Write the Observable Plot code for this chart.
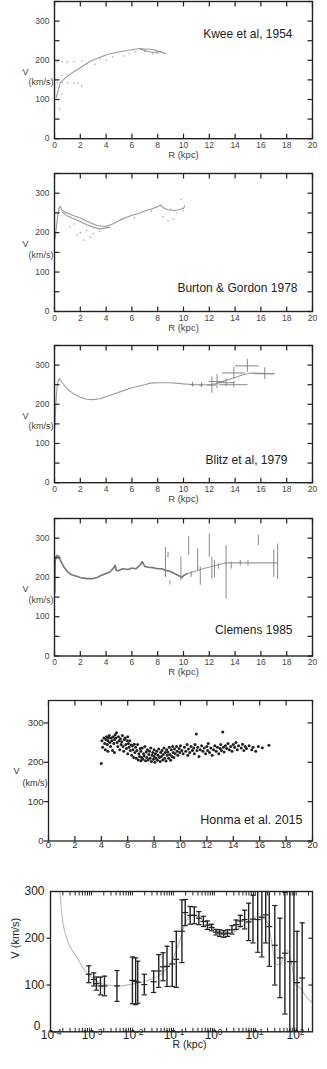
<!DOCTYPE html>
<html><head><meta charset="utf-8">
<script src="https://cdn.jsdelivr.net/npm/d3@7"></script>
<script src="https://cdn.jsdelivr.net/npm/@observablehq/plot@0.6"></script>
<style>
html,body{margin:0;padding:0;background:#fff}
#root{position:relative;width:327px;height:1069px;overflow:hidden;background:#fff}
#root svg{position:absolute;left:0;overflow:visible}
</style></head><body>
<div id="root"></div>
<script>
// ---------------- DATA ----------------
// Panel 1: Kwee et al, 1954
const kweeCurveR = [0.13,0.45,1.0,1.5,2.0,2.8,3.5,4.06,4.8,5.6,6.6,7.0,7.4,7.7,7.94,8.3,8.6];
const kweeCurveV = [105,143,160,171,181,198,207,215,220,225,230,229,228,227,224,221,217];
const kweeCurve2R = [6.6,6.9,7.2,7.5,7.8,8.0,8.3];
const kweeCurve2V = [229,226,223,221,219,222,221];
const kweeDotsR = [0.2,0.6,1.0,1.5,2.1, 0.2,0.6,1.0,1.5,1.8,2.1, 0.39,0.57,0.57, 3.15,3.55,4.0,4.5,5.35,5.8,6.3,7.0,7.6,8.0];
const kweeDotsV = [196,197,196,197,198, 143,143,143,142,142,134, 77,113,161, 190,204,200,209,211,218,222,222,216,218];

// Panel 2: Burton & Gordon 1978
const bgLineAR = [0.05,0.2,0.35,0.45,0.55,0.8,1.0,1.5,2.0,2.5,3.0,3.3,3.6,4.0,4.5,5.0,5.5,6.0,6.5,6.9,7.5,8.0,8.2,8.5,8.8,9.2,9.6,10.0,10.1];
const bgLineAV = [185,230,262,267,258,252,250,243,237,229,222,218,217,216,222,230,238,244,248,254,260,266,270,262,258,256,258,262,268];
const bgLineBR = [0.6,1.0,1.5,2.0,2.5,3.0,3.5,4.0,4.3];
const bgLineBV = [252,242,235,228,220,214,209,212,214];
const bgDotsR = [1.2,1.5,1.74,2.0,2.25,2.5,2.77,3.0,3.5,5.2,6.2,7.5,8.4,8.8,9.0,9.2,9.5,9.8,10.0];
const bgDotsV = [215,222,194,200,181,205,188,198,203,235,238,255,240,230,260,235,250,284,255];

// Panel 3: Blitz et al, 1979
const blitzCurveR = [0.02,0.1,0.2,0.3,0.39,0.6,1.0,1.5,2.0,2.5,3.0,3.5,4.0,5.0,6.0,7.0,7.4,8.0,9.0,10.0,11.0,12.0,12.5,13.0,13.9,14.5,15.2,16.0,16.6,17.0];
const blitzCurveV = [140,200,245,262,265,255,239,226,218,213,212,214,219,231,242,250,254,255,255,252,250,250,252,258,267,274,280,279,278,278];
const blitzR  = [10.7,11.4,12.2,12.6,13.3,13.9,13.9,14.95,16.3];
const blitzV  = [250,249,249,258,255,280,250,298,278];
const blitzER = [0.15,0.15,0.35,0.6,0.7,0.9,1.1,0.9,0.8];
const blitzEV = [6,6,21,18,10,15,8,17,15];

// Panel 4: Clemens 1985
const clemCurveR = [0.02,0.05,0.1,0.2,0.3,0.4,0.5,0.7,1.0,1.3,1.6,2.0,2.5,3.0,3.3,3.6,4.0,4.3,4.6,4.7,4.8,5.0,5.3,5.7,6.0,6.3,6.6,6.8,7.0,7.3,7.6,8.0,8.3,8.6,9.0,9.3,9.6,9.9,10.0,10.3];
const clemCurveV = [160,240,252,256,254,250,240,228,215,207,204,200,197,197,200,205,210,214,225,231,217,218,222,220,224,222,230,240,228,226,225,222,222,218,215,210,205,200,205,210];
const clemOuterR = [10.3,11.5,13.0,13.3,17.3];
const clemOuterV = [210,222,235,237,237];
const clemBarR = [8.6,8.8,8.95,9.8,10.4,10.6,11.1,11.3,12.0,12.2,12.4,12.7,13.3,13.7,14.4,15.0,15.8,17.0,17.3];
const clemBarV = [238,257,186,222,280,207,245,203,281,223,221,228,213,230,236,236,294,235,240];
const clemBarE = [38,7,5,30,24,7,28,23,30,28,22,7,68,9,7,7,13,35,45];

// Panel 5: Honma et al. 2015 (R, V)
const honmaR = [4.0,4.05,4.1,4.2,4.25,4.3,4.35,4.4,4.45,4.5,4.5,4.55,4.6,4.65,4.7,4.75,4.8,4.85,4.9,4.95,5.0,5.0,5.05,5.1,5.15,5.2,5.25,5.3,5.35,5.4,5.45,5.5,5.55,5.6,5.65,5.7,5.75,5.8,5.85,5.9,5.95,6.0,6.0,6.05,6.1,6.15,6.2,6.25,6.3,6.35,6.4,6.45,6.5,6.55,6.6,6.65,6.7,6.75,6.8,6.85,6.9,6.95,7.0,7.0,7.05,7.1,7.15,7.2,7.25,7.3,7.35,7.4,7.45,7.5,7.55,7.6,7.65,7.7,7.75,7.8,7.85,7.9,7.95,8.0,8.0,8.05,8.1,8.15,8.2,8.25,8.3,8.35,8.4,8.45,8.5,8.55,8.6,8.65,8.7,8.75,8.8,8.85,8.9,8.95,9.0,9.05,9.1,9.15,9.2,9.25,9.3,9.35,9.4,9.45,9.5,9.55,9.6,9.7,9.75,9.8,9.9,9.95,10.0,10.1,10.2,10.3,10.4,10.5,10.55,10.6,10.7,10.8,10.9,11.0,11.05,11.1,11.2,11.25,11.3,11.4,11.5,11.6,11.7,11.8,11.9,12.0,12.05,12.1,12.2,12.3,12.4,12.5,12.6,12.7,12.8,12.9,13.0,13.05,13.1,13.2,13.25,13.3,13.4,13.5,13.6,13.7,13.8,13.9,14.0,14.1,14.2,14.3,14.4,14.6,14.7,14.8,14.9,15.0,15.2,15.4,15.5,15.7,15.9,16.2,16.7];
const honmaV = [197,255,238,262,248,232,258,265,245,255,228,262,268,250,240,262,255,230,265,248,258,225,270,262,275,250,240,265,255,232,260,245,252,268,240,228,258,262,245,235,255,265,222,248,238,255,230,244,218,242,232,212,246,225,238,210,230,245,206,222,215,235,204,228,212,236,208,222,216,240,204,226,212,232,206,220,228,210,236,202,218,225,208,232,215,200,222,210,228,205,218,234,212,202,225,215,230,206,220,236,210,225,203,232,218,226,210,238,220,205,232,215,240,225,212,234,222,240,228,218,235,225,242,230,222,238,228,245,218,234,225,240,230,236,222,245,272,230,238,215,232,242,228,236,222,240,230,248,225,236,218,232,242,228,238,222,235,245,230,277,238,226,242,235,248,232,240,228,245,238,250,232,242,236,246,230,240,235,242,232,238,228,240,237,243];

// Panel 6: grand rotation curve (log R)
const grcR = [8.6e-4,1.14e-3,1.32e-3,1.66e-3,2.08e-3,4.2e-3,0.0100,0.0120,0.0135,0.0195,0.033,0.044,0.056,0.070,0.094,0.118,0.162,0.195,0.257,0.325,0.42,0.54,0.68,0.86,1.1,1.36,1.7,2.1,2.7,3.4,4.3,5.5,6.9,8.8,11.5,14.5,18,22,30,40,53,70,88,105,140];
const grcV = [123,112,103,98,98,98,110,108,106,101,107,130,139,140,145,155,215,255,249,249,243,236,228,223,213,211,209,211,218,229,237,240,235,241,240,245,250,225,185,158,168,150,150,105,115];
const grcE = [18,14,14,19,21,33,50,50,45,22,23,35,30,43,48,60,67,28,19,18,14,11,9,7,6,7,7,7,9,10,12,20,40,51,70,85,60,85,85,85,130,160,160,110,118];
const modelR = [1.7e-4,1.9e-4,2.5e-4,3.5e-4,4.5e-4,7e-4,1e-3,1.5e-3,2.5e-3,5e-3,0.01,0.02,0.04,0.07,0.1,0.15,0.2,0.3,0.5,1,2,3,5,8,11,16,21,25,32,41,60,75,95,126,182,250];
const modelV = [300,250,200,172,158,130,118,106,100,98,102,108,118,135,158,200,235,250,240,220,210,213,228,238,247,243,229,193,144,144,175,151,101,94,73,62];

// tick values / labels
const linXTicks = [0,2,4,6,8,10,12,14,16,18,20];
const linYTicks = [0,50,100,150,200,250,300,350];
const linYLabels = [0,100,200,300];
const logDecades = [1e-4,1e-3,1e-2,1e-1,1,10,100];
const logExps = ["-4","-3","-2","-1","0","1","2"];
const grcYLabels = [100,200,300];
const grcYZero = [0];

// ---------------- HELPERS ----------------
const FONT = "Liberation Sans, Arial, Helvetica, sans-serif";
const seg = (x1,y1,x2,y2) => ({draw(ctx, size){ const r = Math.sqrt(size/Math.PI); ctx.moveTo(x1*r,y1*r); ctx.lineTo(x2*r,y2*r); }});
const tickRight = seg(0,0,1,0), tickLeft = seg(0,0,-1,0), tickUp = seg(0,0,0,-1), tickDown = seg(0,0,0,1), hbar = seg(-1,0,1,0);
const idx = a => a.map((_, i) => i);
const root = document.getElementById("root");

function place(svg, top){ svg.style.top = top + "px"; root.appendChild(svg); }

function edgeTicks({xt, yt, len=5, left=true, right=true, top=true, bottom=true, leftOut=false, sw=1.2}){
  const o = {stroke:"#222", fill:"none", strokeWidth: sw, r: len};
  const m = [];
  if (left) m.push(Plot.dot(yt, {...o, y: d=>d, frameAnchor:"left", symbol: leftOut ? tickLeft : tickRight}));
  if (right) m.push(Plot.dot(yt, {...o, y: d=>d, frameAnchor:"right", symbol: tickLeft}));
  if (top) m.push(Plot.dot(xt, {...o, x: d=>d, frameAnchor:"top", symbol: tickDown}));
  if (bottom) m.push(Plot.dot(xt, {...o, x: d=>d, frameAnchor:"bottom", symbol: tickUp}));
  return m;
}

function stdPanel(frameTop, frameH, dataMarks, title, tdx, tdy, topAnchor){
  const mt = 12, mb = 30;
  const svg = Plot.plot({
    width: 327, height: mt + frameH + mb,
    marginTop: mt, marginBottom: mb, marginLeft: 54, marginRight: 15,
    x: {domain: [0,20], axis: null},
    y: {domain: [0,350], axis: null},
    style: {fontFamily: FONT, background: "transparent"},
    marks: [
      ...dataMarks,
      Plot.frame({stroke: "#222", strokeWidth: 1.4}),
      ...edgeTicks({xt: linXTicks, yt: linYTicks}),
      Plot.text(linYLabels, {y: d=>d, text: d=>String(d), frameAnchor:"left", dx:-5, textAnchor:"end", fontSize: 8.5, fill:"#444"}),
      Plot.text(linXTicks, {x: d=>d, text: d=>String(d), frameAnchor:"bottom", dy: 9, fontSize: 8.5, fill:"#444"}),
      Plot.text(["R (kpc)"], {text: d=>d, frameAnchor:"bottom", dy: 19, fontSize: 9.5, fill:"#444"}),
      Plot.text(["V"], {text: d=>d, frameAnchor:"left", dx:-32, dy:2, fontSize: 9, fill:"#444"}),
      Plot.text(["(km/s)"], {text: d=>d, frameAnchor:"left", dx:-26, dy:12.5, fontSize: 9, fill:"#444"}),
      Plot.text([title], {text: d=>d, frameAnchor: topAnchor ? "top-right" : "bottom-right", dx: tdx, dy: tdy, textAnchor:"end", fontSize: 12, fill:"#222"})
    ]
  });
  place(svg, frameTop - mt);
}

const lineStyle = {stroke:"#999", strokeWidth: 1.1, curve: "linear"};

// Panel 1
stdPanel(0.5, 137.2, [
  Plot.dot(idx(kweeDotsR), {x: kweeDotsR, y: kweeDotsV, r: 0.8, fill: "#aaa", stroke: "none"}),
  Plot.line(idx(kweeCurveR), {x: kweeCurveR, y: kweeCurveV, ...lineStyle}),
  Plot.line(idx(kweeCurve2R), {x: kweeCurve2R, y: kweeCurve2V, ...lineStyle})
], "Kwee et al, 1954", -20, 27.5, true);

// Panel 2
stdPanel(172.5, 138, [
  Plot.dot(idx(bgDotsR), {x: bgDotsR, y: bgDotsV, r: 0.8, fill: "#aaa", stroke: "none"}),
  Plot.line(idx(bgLineAR), {x: bgLineAR, y: bgLineAV, ...lineStyle}),
  Plot.line(idx(bgLineBR), {x: bgLineBR, y: bgLineBV, ...lineStyle})
], "Burton & Gordon 1978", -15, -20, false);

// Panel 3
stdPanel(344.5, 137.2, [
  Plot.line(idx(blitzCurveR), {x: blitzCurveR, y: blitzCurveV, ...lineStyle}),
  Plot.ruleX(idx(blitzR), {x: blitzR, y1: i => blitzV[i]-blitzEV[i], y2: i => blitzV[i]+blitzEV[i], stroke:"#888", strokeWidth: 1}),
  Plot.ruleY(idx(blitzR), {y: blitzV, x1: i => blitzR[i]-blitzER[i], x2: i => blitzR[i]+blitzER[i], stroke:"#888", strokeWidth: 1})
], "Blitz et al, 1979", -25, -19, false);

// Panel 4
stdPanel(517.5, 137.5, [
  Plot.line(idx(clemCurveR), {x: clemCurveR, y: clemCurveV, stroke:"#777", strokeWidth: 1.6}),
  Plot.line(idx(clemOuterR), {x: clemOuterR, y: clemOuterV, ...lineStyle}),
  Plot.ruleX(idx(clemBarR), {x: clemBarR, y1: i => clemBarV[i]-clemBarE[i], y2: i => clemBarV[i]+clemBarE[i], stroke:"#888", strokeWidth: 1})
], "Clemens 1985", -20, -22, false);

// Panel 5: Honma et al. 2015
{
  const mt = 12, mb = 26, fh = 140.5;
  const svg = Plot.plot({
    width: 327, height: mt + fh + mb,
    marginTop: mt, marginBottom: mb, marginLeft: 48, marginRight: 15,
    x: {domain: [0,20], axis: null},
    y: {domain: [0,357], axis: null},
    style: {fontFamily: FONT, background: "transparent"},
    marks: [
      Plot.dot(idx(honmaR), {x: honmaR, y: honmaV, r: 1.5, fill: "#222", stroke: "none"}),
      Plot.frame({stroke: "#222", strokeWidth: 1.3}),
      ...edgeTicks({xt: linXTicks, yt: linYLabels, len: 5, leftOut: true}),
      Plot.text(linYLabels, {y: d=>d, text: d=>String(d), frameAnchor:"left", dx:-5, textAnchor:"end", fontSize: 9.5, fill:"#333"}),
      Plot.text(linXTicks, {x: d=>d, text: d=>String(d), frameAnchor:"bottom", dy: 7, fontSize: 9.5, fill:"#333"}),
      Plot.text(["V"], {text: d=>d, frameAnchor:"left", dx:-35, dy:0, fontSize: 9, fill:"#333"}),
      Plot.text(["(km/s)"], {text: d=>d, frameAnchor:"left", dx:-26, dy:12.5, fontSize: 9, fill:"#333"}),
      Plot.text(["Honma et al. 2015"], {text: d=>d, frameAnchor:"bottom-right", dx:-10, dy:-17.5, textAnchor:"end", fontSize: 12.5, fill:"#222"})
    ]
  });
  place(svg, 700 - mt);
}

// Panel 6: grand rotation curve
{
  const mt = 12, mb = 28, fh = 140.3;
  const minor = [];
  logDecades.forEach(d => { for (let k = 1; k <= 9; k++) { const v = d*k; if (v <= 250) minor.push(v); } });
  const clampV = v => Math.max(0, Math.min(300, v));
  const svg = Plot.plot({
    width: 327, height: mt + fh + mb,
    marginTop: mt, marginBottom: mb, marginLeft: 50, marginRight: 15,
    x: {type: "log", domain: [1e-4, 250], axis: null},
    y: {domain: [0,300], axis: null},
    style: {fontFamily: FONT, background: "transparent"},
    marks: [
      Plot.line(idx(modelR), {x: modelR, y: modelV, stroke:"#bbb", strokeWidth: 1.1, curve: "monotone-x", clip: true}),
      Plot.ruleX(idx(grcR), {x: grcR, y1: i => clampV(grcV[i]-grcE[i]), y2: i => clampV(grcV[i]+grcE[i]), stroke:"#222", strokeWidth: 1.4}),
      Plot.dot(idx(grcR).filter(i => grcV[i]+grcE[i] < 300), {x: i => grcR[i], y: i => grcV[i]+grcE[i], symbol: hbar, r: 2.6, stroke:"#222", fill:"none", strokeWidth: 1.2}),
      Plot.dot(idx(grcR).filter(i => grcV[i]-grcE[i] > 0), {x: i => grcR[i], y: i => grcV[i]-grcE[i], symbol: hbar, r: 2.6, stroke:"#222", fill:"none", strokeWidth: 1.2}),
      Plot.dot(idx(grcR), {x: grcR, y: grcV, symbol: hbar, r: 3, stroke:"#222", fill:"none", strokeWidth: 1.2}),
      Plot.frame({stroke: "#222", strokeWidth: 1.4}),
      Plot.dot(minor, {x: d=>d, frameAnchor:"top", symbol: tickDown, r: 4, stroke:"#222", fill:"none", strokeWidth: 1}),
      Plot.dot(minor, {x: d=>d, frameAnchor:"bottom", symbol: tickUp, r: 4, stroke:"#222", fill:"none", strokeWidth: 1}),
      Plot.dot([100,200], {y: d=>d, frameAnchor:"left", symbol: tickLeft, r: 4, stroke:"#222", fill:"none", strokeWidth: 1.2}),
      Plot.dot([100,200], {y: d=>d, frameAnchor:"right", symbol: tickLeft, r: 4, stroke:"#222", fill:"none", strokeWidth: 1.2}),
      Plot.text(grcYLabels, {y: d=>d, text: d=>String(d), frameAnchor:"left", dx:-6, textAnchor:"end", fontSize: 12, fill:"#222"}),
      Plot.text(grcYZero, {y: d=>d, text: d=>String(d), frameAnchor:"left", dx:-10, dy:-6, textAnchor:"end", fontSize: 12, fill:"#222"}),
      Plot.text(logDecades, {x: d=>d, text: () => "10", frameAnchor:"bottom", dx:-3, dy: 7, fontSize: 12, fill:"#222"}),
      Plot.text(idx(logDecades), {x: i => logDecades[i], text: i => logExps[i], frameAnchor:"bottom", dx: 3.5, dy: 3, textAnchor:"start", fontSize: 8.5, fill:"#222"}),
      Plot.text(["R (kpc)"], {text: d=>d, frameAnchor:"bottom", dx: 8, dy: 16, fontSize: 10.5, fill:"#222"}),
      Plot.text(["V (km/s)"], {text: d=>d, frameAnchor:"left", dx:-35, dy:-3, rotate: -90, fontSize: 11, fill:"#222"})
    ]
  });
  place(svg, 890.7 - mt);
}
</script>
</body></html>
